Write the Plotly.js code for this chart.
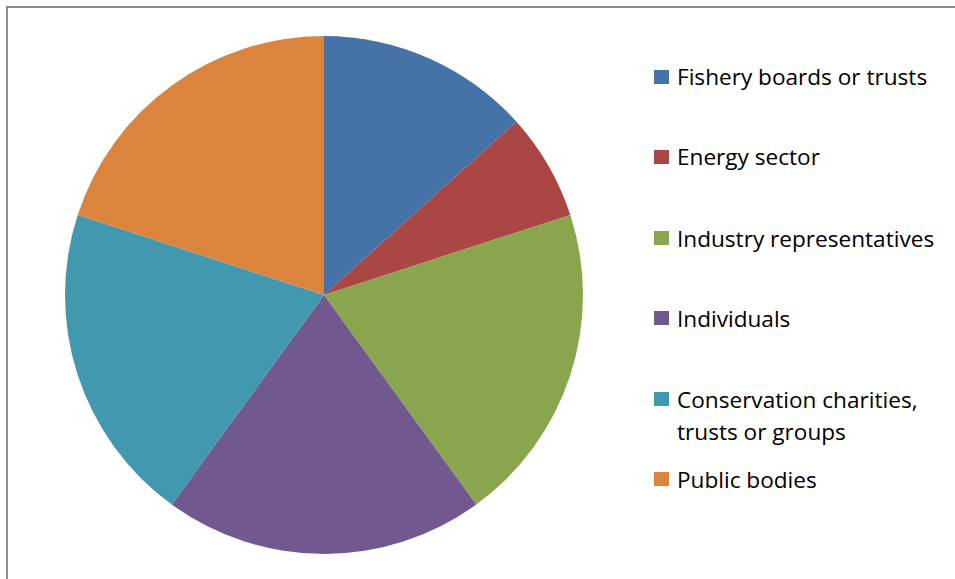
<!DOCTYPE html>
<html><head><meta charset="utf-8">
<script src="https://cdn.plot.ly/plotly-3.0.1.min.js"></script>
<style>html,body{margin:0;padding:0;background:#fff;overflow:hidden}#chart{width:955px;height:579px}</style>
</head><body><div id="chart"></div>
<script>
const labels = ["Fishery boards or trusts","Energy sector","Industry representatives","Individuals","Conservation charities,<br>trusts or groups","Public bodies"];
const values = [2,1,3,3,3,3];
const colors = ["#4572A7","#AA4643","#89A54E","#71588F","#4198AF","#DB843D"];
const legendY = [77,157,238,318,399,479];

const W=955,H=579;
const annotations = [];
labels.forEach((t,i)=>{
  t.split('<br>').forEach((line,j)=>annotations.push({
    xref:'paper',yref:'paper',x:675/W,y:1-(legendY[i]+j*32)/H,xanchor:'left',yanchor:'middle',
    text:line,showarrow:false,align:'left',font:{family:'Open Sans, sans-serif',size:22.6,color:'#000'}
  }));
});
const shapes = [{type:'rect',xref:'paper',yref:'paper',x0:7/W,x1:1.2,y0:-0.2,y1:1-7/H,line:{color:'#8c8c8c',width:2},fillcolor:'rgba(0,0,0,0)'}];
colors.forEach((c,i)=>shapes.push({type:'rect',xref:'paper',yref:'paper',x0:654/W,x1:669/W,y0:1-(legendY[i]+7)/H,y1:1-(legendY[i]-7)/H,fillcolor:c,line:{width:0}}));

Plotly.newPlot('chart',[{
  type:'pie',labels:labels,values:values,sort:false,direction:'clockwise',rotation:0,
  marker:{colors:colors,line:{width:0}},textinfo:'none',hoverinfo:'label+value',
  domain:{x:[65/W,583/W],y:[1-554/H,1-36/H]}
}],{
  width:W,height:H,margin:{l:0,r:0,t:0,b:0},showlegend:false,
  paper_bgcolor:'#fff',annotations:annotations,shapes:shapes
},{displayModeBar:false,staticPlot:true});
</script></body></html>
